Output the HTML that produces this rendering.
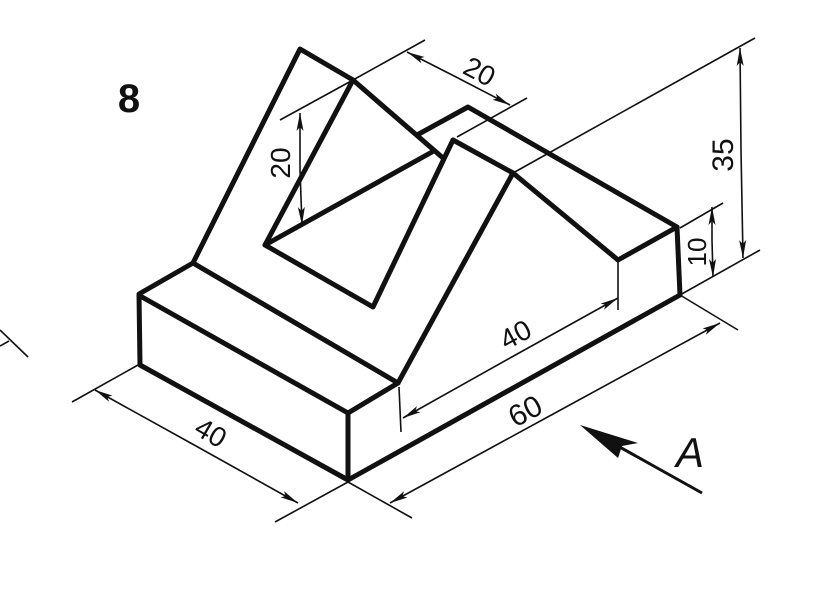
<!DOCTYPE html>
<html><head><meta charset="utf-8"><style>
html,body{margin:0;padding:0;background:#fff;}
svg{display:block;}
text{font-family:"Liberation Sans",sans-serif;fill:#111;}
</style></head><body>
<svg width="832" height="596" viewBox="0 0 832 596" xmlns="http://www.w3.org/2000/svg">
<defs>
<marker id="ah" markerWidth="20" markerHeight="8" refX="18" refY="4" orient="auto" markerUnits="userSpaceOnUse">
<path d="M0,0.5 L18,4 L0,7.5 L4,4 Z" fill="#111"/>
</marker>
</defs>
<rect width="832" height="596" fill="#fff"/>
<g stroke="#111" stroke-width="5" stroke-linecap="round" stroke-linejoin="round" fill="none">
<!-- base block -->
<polyline points="193,263 139,294 140,365 348,480 348,413 142,297"/>
<line x1="348" y1="413" x2="398" y2="383"/>
<line x1="348" y1="480" x2="680" y2="295"/>
<line x1="193" y1="263" x2="398" y2="383"/>
<!-- slanted frame -->
<polyline points="193,263 300,49 353,80 443,158"/>
<polyline points="353,80 265,245 373,307 453,140"/>
<line x1="265" y1="245" x2="432" y2="152"/>
<!-- ridge -->
<polyline points="417,135 468,107 677,227"/>
<!-- tower -->
<line x1="453" y1="140" x2="513" y2="173"/>
<line x1="513" y1="173" x2="398" y2="383"/>
<polyline points="513,173 618,260 677,227 680,295"/>
</g>
<g stroke="#111" stroke-width="1.6" fill="none">
<!-- extension lines -->
<line x1="353" y1="80" x2="425" y2="40"/>
<line x1="457" y1="137" x2="527" y2="98"/>
<line x1="280" y1="120" x2="353" y2="80"/>
<line x1="513" y1="173" x2="755" y2="38"/>
<line x1="680" y1="228" x2="723" y2="203"/>
<line x1="680" y1="295" x2="760" y2="250"/>
<line x1="680" y1="295" x2="738" y2="330"/>
<line x1="618" y1="262" x2="618" y2="310"/>
<line x1="399" y1="387" x2="401" y2="432"/>
<line x1="138" y1="365" x2="72" y2="402"/>
<line x1="348" y1="482" x2="275" y2="522"/>
<line x1="348" y1="482" x2="412" y2="518"/>
<line x1="0" y1="330" x2="28" y2="357"/>
<line x1="0" y1="346" x2="9" y2="341"/>
<!-- dimension lines -->
<line x1="458" y1="78" x2="407" y2="52" marker-end="url(#ah)"/>
<line x1="458" y1="78" x2="510" y2="105" marker-end="url(#ah)"/>
<line x1="300" y1="170" x2="300" y2="113" marker-end="url(#ah)"/>
<line x1="300" y1="170" x2="302" y2="225" marker-end="url(#ah)"/>
<line x1="741" y1="150" x2="740" y2="48" marker-end="url(#ah)"/>
<line x1="741" y1="150" x2="743" y2="258" marker-end="url(#ah)"/>
<line x1="712" y1="240" x2="712" y2="207" marker-end="url(#ah)"/>
<line x1="712" y1="240" x2="713" y2="277" marker-end="url(#ah)"/>
<line x1="196" y1="446" x2="95" y2="390" marker-end="url(#ah)"/>
<line x1="196" y1="446" x2="298" y2="503" marker-end="url(#ah)"/>
<line x1="510" y1="358" x2="403" y2="418" marker-end="url(#ah)"/>
<line x1="510" y1="358" x2="618" y2="298" marker-end="url(#ah)"/>
<line x1="555" y1="413" x2="390" y2="503" marker-end="url(#ah)"/>
<line x1="555" y1="413" x2="720" y2="323" marker-end="url(#ah)"/>
</g>
<!-- view arrow A -->
<line x1="702" y1="493" x2="600" y2="436" stroke="#111" stroke-width="3"/>
<path d="M580,425 L638,443 L622,446 L618,458 Z" fill="#111"/>
<text x="690" y="467" font-size="42" font-style="italic" text-anchor="middle">A</text>
<text x="129" y="112" font-size="40" font-weight="bold" text-anchor="middle">8</text>
<text font-size="28" text-anchor="middle" transform="translate(475,80) rotate(28)">20</text>
<text font-size="28" text-anchor="middle" transform="translate(290,163) rotate(-90)">20</text>
<text font-size="30" text-anchor="middle" transform="translate(733,155) rotate(-90)">35</text>
<text font-size="26" text-anchor="middle" transform="translate(706,252) rotate(-90)">10</text>
<text font-size="28" text-anchor="middle" transform="translate(206,441) rotate(30)">40</text>
<text font-size="28" text-anchor="middle" transform="translate(520,343) rotate(-28)">40</text>
<text font-size="30" text-anchor="middle" transform="translate(530,420) rotate(-28)">60</text>
</svg>
</body></html>
